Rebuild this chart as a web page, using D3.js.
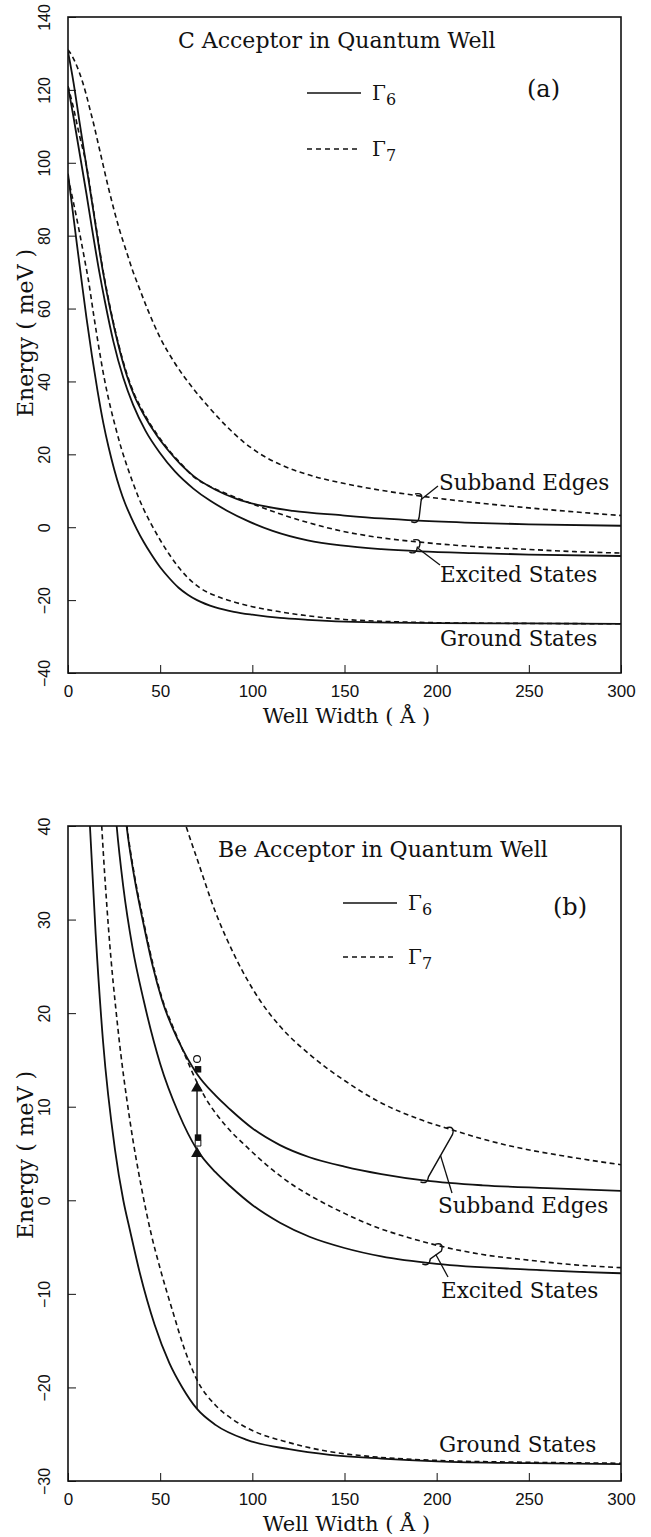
<!DOCTYPE html>
<html>
<head>
<meta charset="utf-8">
<script src="https://cdn.jsdelivr.net/npm/d3@7"></script>
<style>
  body { margin: 0; background: #fff; }
</style>
</head>
<body>
<script>
// tick values
var xTicks = [0, 50, 100, 150, 200, 250, 300];
var yTicksA = [-40, -20, 0, 20, 40, 60, 80, 100, 120, 140];
var yTicksB = [-30, -20, -10, 0, 10, 20, 30, 40];

// (a) C acceptor, [well width (A), energy (meV)]
var cSubbandG7 = [[0,131],[2,129.5],[4,127.5],[6,125],[8,122],[10,118.5],[12,114.5],[14,110.5],[16.5,105],[19,99.5],[22,93],[25,87],[28,81.5],[31.8,75.5],[35,70.5],[38,66.5],[43,60],[50,52],[58,45],[68,38],[77,32.6],[86,27.7],[95,23.5],[104,20.2],[117,16.8],[131,14.3],[148,12.2],[169,10.2],[189,8.7],[220,6.8],[250,5.3],[275,4.2],[300,3.2]];
var cSubbandG6 = [[0,130.5],[3,122],[6,112],[10,99],[14,86],[19,70],[23,59.5],[27.3,50],[32,41.5],[36,36],[41,31],[48,25.3],[55,20.7],[61,17.3],[68,14.1],[80,10.3],[91.5,7.8],[105,5.9],[122,4.5],[148,3.3],[170,2.4],[190,1.8],[220,1.2],[250,0.8],[300,0.4]];
var cExcitedG7 = [[0,121],[3,115],[6,108],[10,99.3],[14,86.5],[19,70.5],[23,60],[27.3,50.5],[32,42],[36,36.5],[41,31.5],[48,25.7],[55,21],[61,17.6],[68,13.9],[77,11.2],[86,9.2],[100,6.4],[113,4.0],[130,1.3],[148,-1.0],[170,-2.9],[191,-4.1],[220,-5.3],[250,-6.1],[275,-6.7],[300,-7.1]];
var cExcitedG6 = [[0,121],[3,112.5],[6,103.5],[10,91.5],[13,82],[17,70],[20,62],[24.6,51],[30,41],[35.4,33.5],[42,26.5],[50,20.3],[58,15.3],[68,10.6],[77,7.3],[86,4.6],[98,1.6],[111,-1.0],[130,-3.6],[148,-5.0],[170,-6.0],[191,-6.6],[220,-7.1],[250,-7.5],[300,-7.9]];
var cGroundG7 = [[0,96],[3,89],[6,81.5],[9,73.5],[11,68],[14,58],[17,48.5],[20,40],[23,33],[26,27],[29,21.5],[32,16.8],[35,12.5],[38,8.5],[41,5],[45,1],[50,-3.5],[55,-7.5],[60,-11],[65.3,-14],[72,-16.8],[80,-18.8],[90,-20.5],[100,-21.8],[115,-23.2],[130,-24.3],[150,-25.3],[175,-25.9],[200,-26.2],[250,-26.4],[300,-26.5]];
var cGroundG6 = [[0,97],[2.5,87],[5,77],[7.4,67.5],[10,57.5],[13,47],[16,37.5],[19.2,28.5],[22,22],[25,16],[28.2,10.5],[31,6.5],[34,3],[37.3,-0.5],[41,-4],[45,-7.3],[50,-11],[55,-14],[60,-16.6],[65,-18.5],[70,-20],[80,-22],[90,-23.2],[100,-24],[115,-24.9],[130,-25.4],[150,-25.9],[175,-26.2],[200,-26.3],[250,-26.4],[300,-26.5]];

// (b) Be acceptor
var beSubbandG7 = [[55,46],[60,42.5],[64,40],[70,36.5],[80,30.8],[90,26.3],[104,21.4],[115,18.6],[131,15.6],[150,12.8],[169,10.5],[190,8.7],[207,7.6],[240,5.8],[270,4.7],[300,3.8]];
var beSubbandG6 = [[25,57],[28,48],[31.8,40],[36,34.5],[41,29.5],[46,25],[51,21.4],[60,17],[70,13.5],[80,11.2],[88,9.7],[100,7.7],[115,5.9],[131,4.6],[150,3.6],[170,2.8],[194,2.1],[225,1.6],[260,1.3],[300,1.0]];
var beExcitedG7 = [[25,57.3],[28,48.3],[31.8,40.3],[36,34.8],[41,29.8],[46,25.3],[51,21.6],[57,18.5],[62.6,15.9],[70,12.6],[75,10.8],[85,8.1],[97,5.7],[110,3.4],[123,1.5],[136,0],[150,-1.4],[169,-3.0],[185,-4.0],[202,-4.9],[225,-5.8],[250,-6.4],[275,-6.9],[300,-7.2]];
var beExcitedG6 = [[20,60],[23,49],[26.4,40],[30,33.5],[35,27],[41,21.4],[50,14.6],[60,9.3],[70,5.4],[80,3.0],[88,1.5],[100,-0.5],[115,-2.4],[131,-3.9],[150,-5.1],[170,-6.0],[200,-6.8],[250,-7.4],[300,-7.8]];
var beGroundG7 = [[12,70],[15,53],[18.3,40],[22,29],[27,18.5],[33.6,8.5],[40,1.2],[45,-3.5],[50,-7.3],[57,-12],[63,-15.8],[70,-19.2],[80,-21.9],[90,-23.5],[100,-24.6],[120,-25.9],[140,-26.8],[165,-27.4],[200,-27.8],[250,-28.0],[300,-28.1]];
var beGroundG6 = [[6,70],[9,53],[11.9,40],[15,28.5],[19,17],[25.5,5.4],[30,0],[33.6,-3.2],[39,-7.8],[47,-13.3],[55,-17.4],[62,-20],[70,-22.3],[80,-24],[97,-25.6],[120,-26.6],[142,-27.2],[170,-27.6],[200,-27.9],[250,-28.1],[300,-28.2]];

// (b) measured points at 70 A
var beOpenCircle = [[70, 15.1]];
var beFilledSquare = [[70, 14.0], [70, 6.7]];
var beOpenSquare = [[70, 6.1]];
var beTriangle = [[70, 12.1], [70, 5.1]];
var beArrows = [[70, -22.3, 5.1], [70, 6.1, 12.1]]; // width, from, to

var serif = "'DejaVu Serif', serif";
var sans = "'Liberation Sans', Arial, sans-serif";
var ink = "#111";

var svg = d3.select("body").append("svg")
    .attr("width", 651)
    .attr("height", 1537);

// linear lookup of a curve at width X
function valueAt(curve, X) {
  var i = d3.bisector(function(d) { return d[0]; }).left(curve, X);
  if (i <= 0) return curve[0][1];
  if (i >= curve.length) return curve[curve.length - 1][1];
  var a = curve[i - 1], b = curve[i];
  return a[1] + (b[1] - a[1]) * (X - a[0]) / (b[0] - a[0]);
}

function gamma(g, xp, yp, sub) {
  var t = g.append("text").attr("x", xp).attr("y", yp)
      .attr("font-family", serif).attr("font-size", 20).attr("fill", ink);
  t.append("tspan").text("\u0393");
  t.append("tspan").attr("font-size", 16).attr("dy", 5).text(sub);
}

function drawPanel(p) {
  var width = 553, height = p.height;

  var x = d3.scaleLinear().domain([0, 300]).range([0, width]);
  var y = d3.scaleLinear().domain(p.yDomain).range([height, 0]);

  var g = svg.append("g")
      .attr("transform", "translate(68," + p.top + ")");

  g.append("clipPath").attr("id", p.id + "clip")
    .append("rect").attr("width", width).attr("height", height);

  // curves
  var line = d3.line()
      .x(function(d) { return x(d[0]); })
      .y(function(d) { return y(d[1]); })
      .curve(d3.curveMonotoneX);

  var plot = g.append("g").attr("clip-path", "url(#" + p.id + "clip)");
  p.curves.forEach(function(c) {
    plot.append("path")
        .datum(c.data)
        .attr("d", line)
        .attr("fill", "none")
        .attr("stroke", ink)
        .attr("stroke-width", c.dashed ? 1.6 : 1.8)
        .attr("stroke-dasharray", c.dashed ? "5,3.5" : null);
  });

  // frame
  g.append("rect")
      .attr("width", width).attr("height", height)
      .attr("fill", "none").attr("stroke", ink).attr("stroke-width", 1.6);

  // y axis, ticks inside, labels rotated
  var gy = g.append("g")
      .call(d3.axisLeft(y).tickValues(p.yTicks).tickSizeInner(-8).tickSizeOuter(0).tickPadding(0));
  gy.select(".domain").remove();
  gy.attr("font-family", sans).attr("font-size", 16);
  gy.selectAll("line").attr("stroke", ink);
  gy.selectAll("text")
      .attr("x", 0).attr("dy", 0)
      .attr("text-anchor", "middle")
      .attr("fill", ink)
      .attr("transform", "translate(-18,0) rotate(-90)");

  // x axis
  var gx = g.append("g")
      .attr("transform", "translate(0," + height + ")")
      .call(d3.axisBottom(x).tickValues(xTicks).tickSizeInner(-8).tickSizeOuter(0).tickPadding(12));
  gx.select(".domain").remove();
  gx.attr("font-family", sans).attr("font-size", 17);
  gx.selectAll("line").attr("stroke", ink);
  gx.selectAll("text").attr("fill", ink);

  // axis titles
  g.append("text")
      .attr("transform", "translate(-35," + p.yTitleY + ") rotate(-90)")
      .attr("text-anchor", "middle")
      .attr("font-family", serif).attr("font-size", 22).attr("fill", ink)
      .text("Energy ( meV )");
  g.append("text")
      .attr("x", width / 2 + 2).attr("y", height + 50)
      .attr("text-anchor", "middle")
      .attr("font-family", serif).attr("font-size", 21).attr("fill", ink)
      .text("Well Width ( \u00c5 )");

  // title, panel letter, legend
  g.append("text")
      .attr("x", p.titleX).attr("y", 31)
      .attr("font-family", serif).attr("font-size", 22).attr("fill", ink)
      .text(p.title);
  g.append("text")
      .attr("x", p.letterX).attr("y", p.letterY)
      .attr("font-family", serif).attr("font-size", 24).attr("fill", ink)
      .text(p.letter);

  g.append("line")
      .attr("x1", p.legX).attr("x2", p.legX + 54)
      .attr("y1", p.legY1).attr("y2", p.legY1)
      .attr("stroke", ink).attr("stroke-width", 1.6);
  gamma(g, p.legX + 65, p.legY1 + 7, "6");
  g.append("line")
      .attr("x1", p.legX).attr("x2", p.legX + 54)
      .attr("y1", p.legY2).attr("y2", p.legY2)
      .attr("stroke", ink).attr("stroke-width", 1.4)
      .attr("stroke-dasharray", "5,4");
  gamma(g, p.legX + 65, p.legY2 + 7, "7");

  // state labels
  p.labels.forEach(function(l) {
    g.append("text")
        .attr("x", l.x).attr("y", l.y)
        .attr("font-family", serif).attr("font-size", 21.5).attr("fill", ink)
        .text(l.text);
  });

  // braces joining the two curves of a pair, with a leader to the label
  p.braces.forEach(function(b) {
    var xt = x(b.xTop), yt = y(valueAt(b.top, b.xTop));
    var xb = x(b.xBot), yb = y(valueAt(b.bot, b.xBot));
    var path = "M" + (xt - 5) + "," + (yt - 2) +
        " Q" + (xt + 4) + "," + (yt - 4) + " " + (xt + 1) + "," + (yt + 5) +
        " L" + (xb + 1) + "," + (yb - 4) +
        " Q" + (xb) + "," + (yb + 4) + " " + (xb - 7) + "," + (yb + 1);
    g.append("path").attr("d", path)
        .attr("fill", "none").attr("stroke", ink).attr("stroke-width", 1.4);
    var f = b.leadFrom;
    g.append("line")
        .attr("x1", xt + (xb - xt) * f + 1).attr("y1", yt + (yb - yt) * f)
        .attr("x2", b.leadTo[0]).attr("y2", b.leadTo[1])
        .attr("stroke", ink).attr("stroke-width", 1.3);
  });

  if (p.points) {
    // transition arrows
    beArrows.forEach(function(a) {
      g.append("line")
          .attr("x1", x(a[0])).attr("x2", x(a[0]))
          .attr("y1", y(a[1])).attr("y2", y(a[2]))
          .attr("stroke", ink).attr("stroke-width", 1.4);
    });
    g.selectAll(".tri").data(beTriangle).enter().append("path")
        .attr("transform", function(d) { return "translate(" + x(d[0]) + "," + (y(d[1]) + 1) + ")"; })
        .attr("d", d3.symbol().type(d3.symbolTriangle).size(60))
        .attr("fill", ink);
    g.selectAll(".fsq").data(beFilledSquare).enter().append("path")
        .attr("transform", function(d) { return "translate(" + (x(d[0]) + 1) + "," + y(d[1]) + ")"; })
        .attr("d", d3.symbol().type(d3.symbolSquare).size(42))
        .attr("fill", ink);
    g.selectAll(".osq").data(beOpenSquare).enter().append("path")
        .attr("transform", function(d) { return "translate(" + (x(d[0]) + 1) + "," + y(d[1]) + ")"; })
        .attr("d", d3.symbol().type(d3.symbolSquare).size(32))
        .attr("fill", "#fff").attr("stroke", ink).attr("stroke-width", 1);
    g.selectAll(".oci").data(beOpenCircle).enter().append("circle")
        .attr("cx", function(d) { return x(d[0]); })
        .attr("cy", function(d) { return y(d[1]); })
        .attr("r", 3.4)
        .attr("fill", "#fff").attr("stroke", ink).attr("stroke-width", 1.1);
  }
}

drawPanel({
  id: "a", top: 17, height: 656, yDomain: [-40, 140], yTicks: yTicksA, yTitleY: 316,
  title: "C Acceptor in Quantum Well", titleX: 110,
  letter: "(a)", letterX: 459, letterY: 80,
  legX: 239, legY1: 76, legY2: 132,
  curves: [
    {data: cSubbandG7, dashed: true}, {data: cSubbandG6, dashed: false},
    {data: cExcitedG7, dashed: true}, {data: cExcitedG6, dashed: false},
    {data: cGroundG7, dashed: true}, {data: cGroundG6, dashed: false}
  ],
  labels: [
    {text: "Subband Edges", x: 371, y: 473},
    {text: "Excited States", x: 372, y: 565},
    {text: "Ground States", x: 372, y: 629}
  ],
  braces: [
    {top: cSubbandG7, bot: cSubbandG6, xTop: 191, xBot: 190, leadFrom: 0.15, leadTo: [370, 469]},
    {top: cExcitedG7, bot: cExcitedG6, xTop: 190, xBot: 189, leadFrom: 0.7, leadTo: [372, 548]}
  ],
  points: false
});

drawPanel({
  id: "b", top: 826, height: 655, yDomain: [-30, 40], yTicks: yTicksB, yTitleY: 329,
  title: "Be Acceptor in Quantum Well", titleX: 150,
  letter: "(b)", letterX: 485, letterY: 89,
  legX: 275, legY1: 77, legY2: 131,
  curves: [
    {data: beSubbandG7, dashed: true}, {data: beSubbandG6, dashed: false},
    {data: beExcitedG7, dashed: true}, {data: beExcitedG6, dashed: false},
    {data: beGroundG7, dashed: true}, {data: beGroundG6, dashed: false}
  ],
  labels: [
    {text: "Subband Edges", x: 370, y: 387},
    {text: "Excited States", x: 373, y: 472},
    {text: "Ground States", x: 371, y: 626}
  ],
  braces: [
    {top: beSubbandG7, bot: beSubbandG6, xTop: 208, xBot: 195, leadFrom: 0.5, leadTo: [384, 367]},
    {top: beExcitedG7, bot: beExcitedG6, xTop: 202, xBot: 196, leadFrom: 0.5, leadTo: [380, 451]}
  ],
  points: true
});
</script>
</body>
</html>
